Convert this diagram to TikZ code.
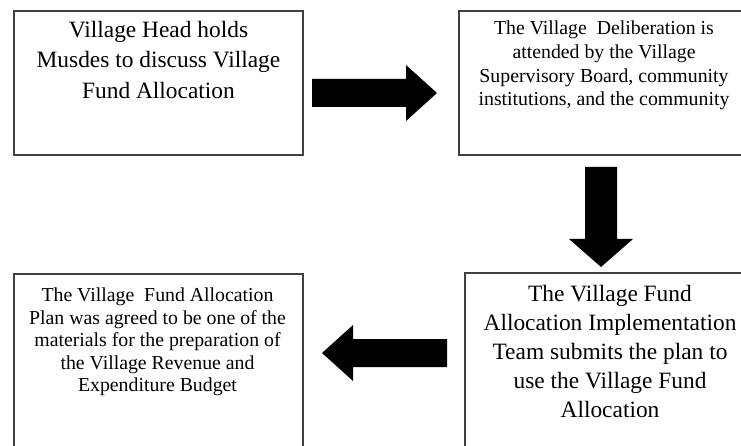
\documentclass[tikz,border=0pt]{standalone}
\usepackage{fontspec}
\setmainfont{Liberation Serif}
\begin{document}
\begin{tikzpicture}[x=1pt,y=-1pt,
  box/.style={draw=black!75, line width=1.2pt, fill=none, inner sep=0pt},
  bigtxt/.style={inner sep=0pt, align=center, anchor=base, font=\fontsize{23.4}{30.5}\selectfont},
  bigtxtb/.style={inner sep=0pt, align=center, anchor=base, font=\fontsize{23.4}{28.9}\selectfont},
  smalltxt/.style={inner sep=0pt, align=center, anchor=base, font=\fontsize{19.8}{23.7}\selectfont},
  smalltxtb/.style={inner sep=0pt, align=center, anchor=base, font=\fontsize{19.8}{22.5}\selectfont},
  blockarrow/.style={fill=black}]
\useasboundingbox (0,0) rectangle (741,446);
\clip (0,0) rectangle (741,446);
\fill[white] (0,0) rectangle (741,446);
% boxes
\draw[box] (14,11) rectangle (303,155);
\node[inner sep=0pt] (b1) at (158.5,83) {};
\draw[box] (459,11) rectangle (749,155);
\node[inner sep=0pt] (b2) at (604,83) {};
\draw[box] (14,274) rectangle (303,470);
\node[inner sep=0pt] (b3) at (158.5,370) {};
\draw[box] (465,273) rectangle (755,470);
\node[inner sep=0pt] (b4) at (610,370) {};
% texts (anchor base = baseline of last line)
\node[bigtxt] (t1) at (158.5,98.3) {Village Head holds\\Musdes to discuss Village\\Fund Allocation};
\node[smalltxt] (t2) at (604,106) {The Village \ Deliberation is\\attended by the Village\\Supervisory Board, community\\institutions, and the community};
\node[smalltxtb] (t3) at (157.5,391.7) {The Village \ Fund Allocation\\Plan was agreed to be one of the\\materials for the preparation of\\the Village Revenue and\\Expenditure Budget};
\node[bigtxtb] (t4) at (610,417) {The Village Fund\\Allocation Implementation\\Team submits the plan to\\use the Village Fund\\Allocation};
% block arrows
\fill[blockarrow] (312,79) -- (406,79) -- (406,65) -- (437,93) -- (406,121) -- (406,107) -- (312,107) -- cycle;
\fill[blockarrow] (585,167) -- (617,167) -- (617,239) -- (633,239) -- (601,267) -- (569,239) -- (585,239) -- cycle;
\fill[blockarrow] (447,339) -- (353,339) -- (353,325) -- (322,353) -- (353,381) -- (353,367) -- (447,367) -- cycle;
\end{tikzpicture}
\end{document}
